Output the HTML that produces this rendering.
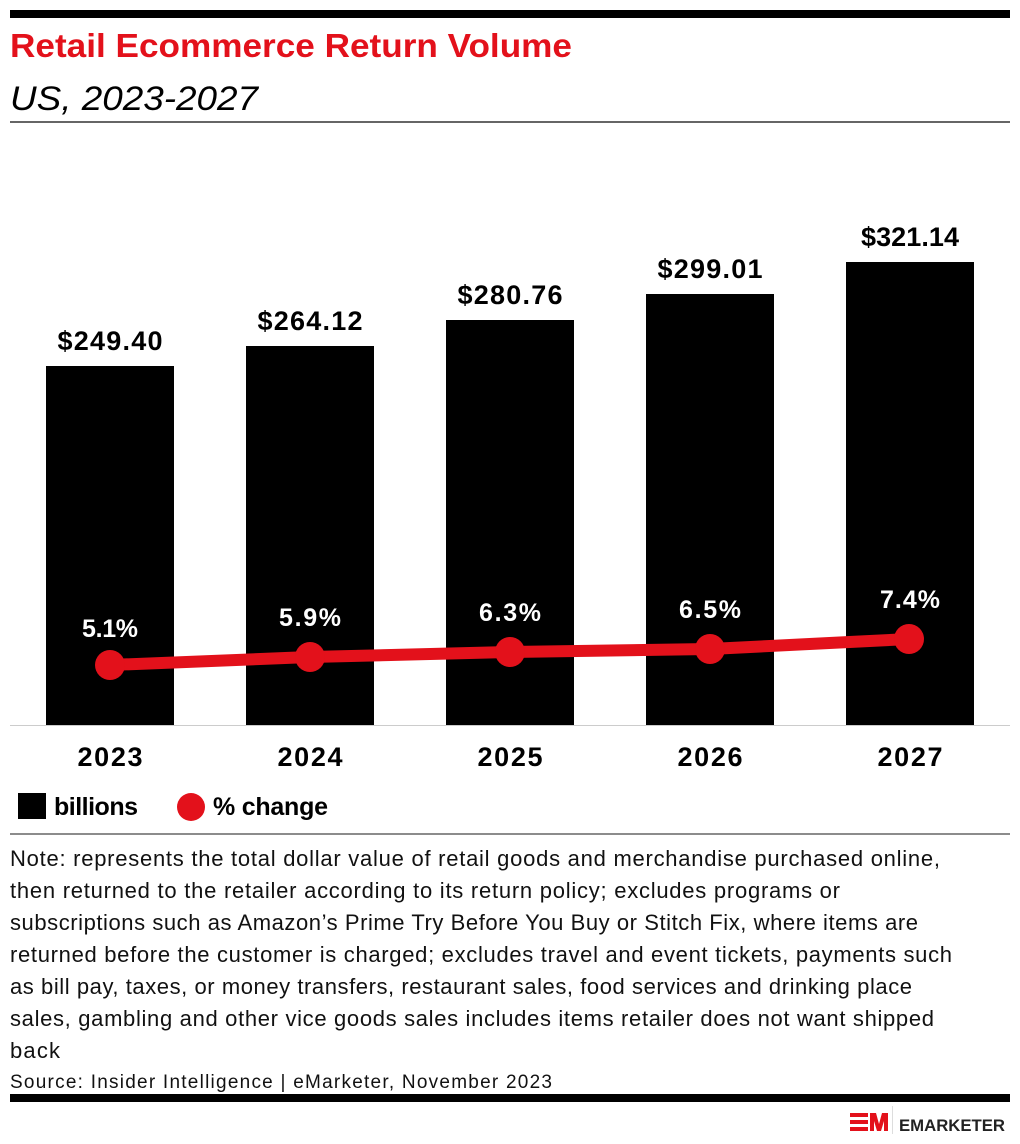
<!DOCTYPE html>
<html><head><meta charset="utf-8"><style>
body{margin:0;width:1020px;height:1144px;background:#fff;font-family:"Liberation Sans",sans-serif;position:relative;overflow:hidden}
</style></head><body>
<svg style="position:absolute;left:0;top:0" width="1020" height="1144">
<rect x="10" y="10" width="1000" height="8" fill="#000"/>
<text x="10" y="57" font-family="Liberation Sans" font-weight="bold" font-size="33" fill="#e3111b" textLength="562" lengthAdjust="spacingAndGlyphs">Retail Ecommerce Return Volume</text>
<text x="10" y="110" font-family="Liberation Sans" font-style="italic" font-size="34" fill="#000" textLength="248" lengthAdjust="spacingAndGlyphs">US, 2023-2027</text>
<rect x="10" y="121" width="1000" height="2" fill="#666"/>
<line x1="10" y1="725.5" x2="1010" y2="725.5" stroke="#ccc" stroke-width="1"/>
<rect x="46" y="366" width="128" height="359" fill="#000"/>
<rect x="246" y="346" width="128" height="379" fill="#000"/>
<rect x="446" y="320" width="128" height="405" fill="#000"/>
<rect x="646" y="294" width="128" height="431" fill="#000"/>
<rect x="846" y="262" width="128" height="463" fill="#000"/>
<g font-family="Liberation Sans" font-weight="bold" font-size="27" text-anchor="middle" fill="#000" lengthAdjust="spacingAndGlyphs">
<text x="110" y="350" textLength="105">$249.40</text><text x="310" y="330" textLength="105">$264.12</text><text x="510" y="304" textLength="105">$280.76</text><text x="710" y="278" textLength="105">$299.01</text><text x="910" y="246" textLength="98">$321.14</text>
<text x="110" y="766" textLength="65">2023</text><text x="310" y="766" textLength="65">2024</text><text x="510" y="766" textLength="65">2025</text><text x="710" y="766" textLength="65">2026</text><text x="910" y="766" textLength="65">2027</text>
</g>
<polyline points="110,665 310,657 510,652 710,649 909,639" fill="none" stroke="#e3111b" stroke-width="12" stroke-linejoin="round"/>
<g fill="#e3111b"><circle cx="110" cy="665" r="15"/><circle cx="310" cy="657" r="15"/><circle cx="510" cy="652" r="15"/><circle cx="710" cy="649" r="15"/><circle cx="909" cy="639" r="15"/></g>
<g font-family="Liberation Sans" font-weight="bold" font-size="25" text-anchor="middle" fill="#fff" lengthAdjust="spacingAndGlyphs">
<text x="110" y="637" textLength="56">5.1%</text><text x="310" y="626" textLength="62">5.9%</text><text x="510" y="621" textLength="62">6.3%</text><text x="710" y="618" textLength="62">6.5%</text><text x="910" y="608" textLength="60">7.4%</text>
</g>
<rect x="18" y="793" width="28" height="26" fill="#000"/>
<circle cx="191" cy="807" r="14" fill="#e3111b"/>
<g font-family="Liberation Sans" font-weight="bold" font-size="25" fill="#000" lengthAdjust="spacingAndGlyphs"><text x="54" y="815" textLength="84">billions</text><text x="213" y="815" textLength="115">% change</text></g>
<line x1="10" y1="834" x2="1010" y2="834" stroke="#666" stroke-width="1.5"/>
<g font-family="Liberation Sans" font-size="22" fill="#111" lengthAdjust="spacingAndGlyphs">
<text x="10" y="866" textLength="930">Note: represents the total dollar value of retail goods and merchandise purchased online,</text>
<text x="10" y="898" textLength="830">then returned to the retailer according to its return policy; excludes programs or</text>
<text x="10" y="930" textLength="908">subscriptions such as Amazon’s Prime Try Before You Buy or Stitch Fix, where items are</text>
<text x="10" y="962" textLength="942">returned before the customer is charged; excludes travel and event tickets, payments such</text>
<text x="10" y="994" textLength="902">as bill pay, taxes, or money transfers, restaurant sales, food services and drinking place</text>
<text x="10" y="1026" textLength="924">sales, gambling and other vice goods sales includes items retailer does not want shipped</text>
<text x="10" y="1058" textLength="50">back</text>
<text x="10" y="1088" font-size="19" textLength="542">Source: Insider Intelligence | eMarketer, November 2023</text>
</g>
<rect x="10" y="1094" width="1000" height="8" fill="#000"/>
<g fill="#e3111b">
<rect x="850" y="1113" width="18" height="4"/><rect x="850" y="1120" width="18" height="4"/><rect x="850" y="1127" width="18" height="4"/>
<polygon points="870,1131 870,1113 876,1113 879,1124 882,1113 888,1113 888,1131 884,1131 884,1121 881,1131 877,1131 874,1121 874,1131"/>
</g>
<line x1="892.5" y1="1106" x2="892.5" y2="1134" stroke="#ddd"/>
<text x="899" y="1131" font-family="Liberation Sans" font-weight="bold" font-size="17" fill="#222" textLength="106" lengthAdjust="spacingAndGlyphs">EMARKETER</text>
</svg>
</body></html>
